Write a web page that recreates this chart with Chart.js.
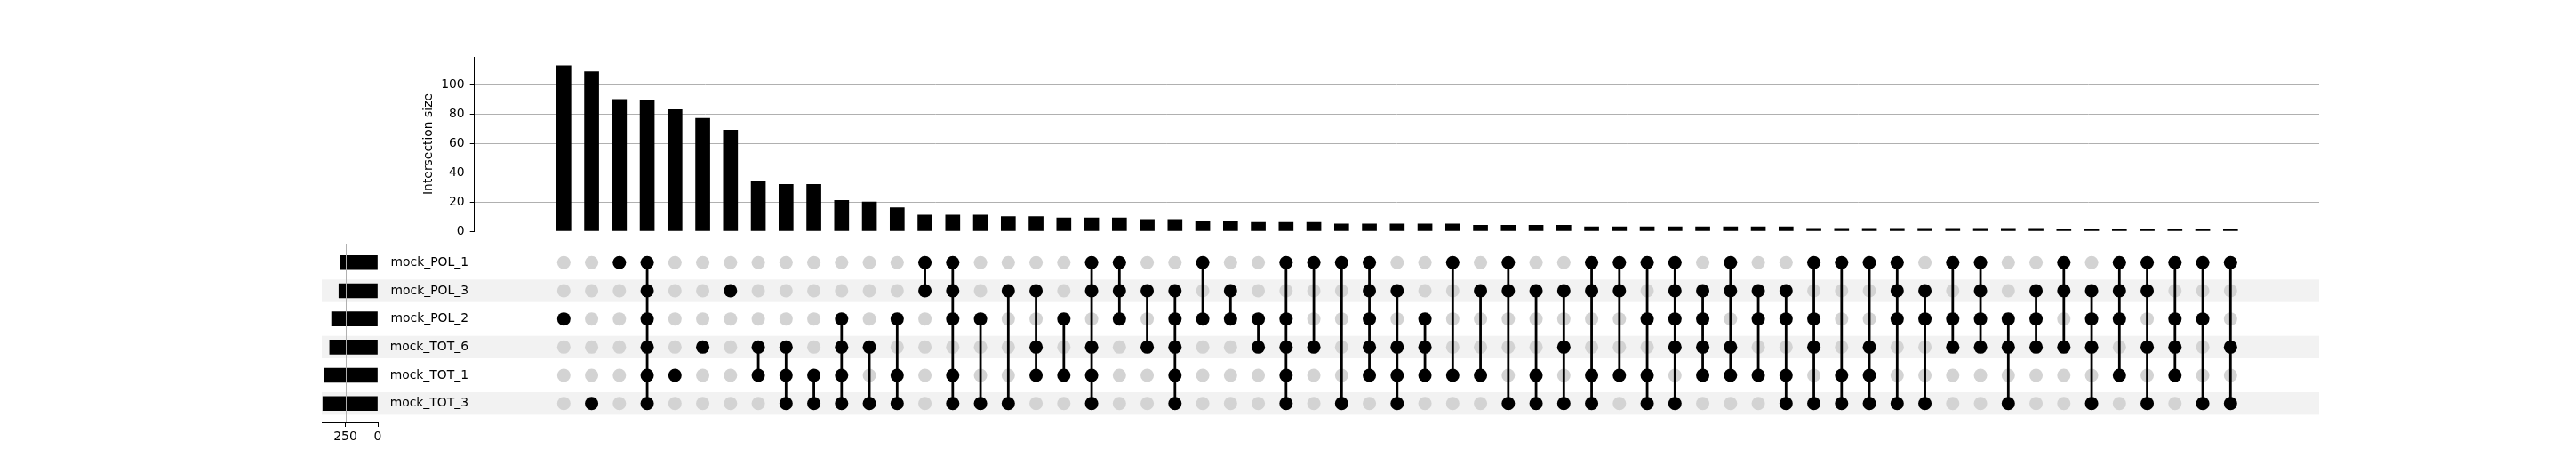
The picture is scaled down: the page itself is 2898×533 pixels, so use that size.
<!DOCTYPE html>
<html>
<head>
<meta charset="utf-8">
<script src="https://cdn.jsdelivr.net/npm/chart.js@4.4.1/dist/chart.umd.min.js"></script>
<style>
  html, body { margin: 0; padding: 0; background: #fff; }
  #wrap { position: relative; width: 2898px; height: 533px; }
  #wrap canvas { position: absolute; left: 0; top: 0; }
</style>
</head>
<body>
<div id="wrap">
  <canvas id="matrix" width="2898" height="533"></canvas>
  <canvas id="totals" width="2898" height="533"></canvas>
  <canvas id="bars" width="2898" height="533"></canvas>
</div>
<script>
// sets, top to bottom in the matrix
const setNames = ['mock_POL_1', 'mock_POL_3', 'mock_POL_2', 'mock_TOT_6', 'mock_TOT_1', 'mock_TOT_3'];
const setSizes = [290, 300, 356, 371, 415, 424];

// intersection sizes, sorted as in the plot
const intersectionSizes = [
    113, 109, 90, 89, 83, 77, 69, 34, 32, 32, 21, 20, 16, 11, 11, 11, 10, 10, 9, 9, 9,
    8, 8, 7, 7, 6, 6, 6, 5, 5, 5, 5, 5, 4, 4, 4, 4, 3, 3, 3, 3, 3, 3, 3, 3,
    2, 2, 2, 2, 2, 2, 2, 2, 2, 1, 1, 1, 1, 1, 1, 1
];

// which sets (row index into setNames) each intersection contains
const memberships = [
    [2], [5], [0], [0, 1, 2, 3, 4, 5], [4], [3], [1], [3, 4], [3, 4, 5], [4, 5],
    [2, 3, 4, 5], [3, 5], [2, 4, 5], [0, 1], [0, 1, 2, 4, 5], [2, 5], [1, 5], [1, 3, 4], [2, 4], [0, 1, 3, 4, 5],
    [0, 1, 2], [1, 3], [1, 2, 3, 4, 5], [0, 2], [1, 2], [2, 3], [0, 2, 3, 4, 5], [0, 3], [0, 5], [0, 1, 2, 3, 4],
    [1, 3, 4, 5], [2, 3, 4], [0, 4], [1, 4], [0, 1, 5], [1, 4, 5], [1, 3, 5], [0, 1, 4, 5], [0, 1, 4], [0, 2, 4, 5],
    [0, 1, 2, 3, 5], [1, 2, 3, 4], [0, 1, 3, 4], [1, 2, 4], [1, 2, 4, 5], [0, 2, 3, 5], [0, 4, 5], [0, 3, 4, 5], [0, 1, 2, 5], [1, 2, 5],
    [0, 2, 3], [0, 1, 2, 3], [2, 3, 5], [1, 2, 3], [0, 1, 3], [1, 2, 3, 5], [0, 1, 2, 4], [0, 1, 3, 5], [0, 2, 3, 4], [0, 2, 5],
    [0, 3, 5]
];

const yTicks = [0, 20, 40, 60, 80, 100];
const sizeTicks = [0, 250];
const sizeGrid = [250];
const shadedRows = [1, 3, 5];

// layout (pixels)
const W = 2898, H = 533;
const plotLeft = 533.7, plotRight = 2609;
const barTop = 64, barBottom = 260;
const matTop = 274, matBottom = 475;
const sizeLeft = 362, sizeRight = 425;
const yTitleLeft = 470.4;
const xMin = -3.22, xMax = 63.19;
const rowMin = -0.672, rowMax = 5.672;

Chart.defaults.font.family = '"DejaVu Sans", sans-serif';
Chart.defaults.font.size = 13.9;
Chart.defaults.color = '#000';

const noPlugins = { legend: { display: false }, tooltip: { enabled: false } };

// intersection size bars
new Chart(document.getElementById('bars'), {
    type: 'bar',
    data: {
        datasets: [{
            data: intersectionSizes.map((v, i) => ({ x: i, y: v })),
            backgroundColor: '#000',
            borderWidth: 0,
            barThickness: 16
        }]
    },
    options: {
        responsive: false,
        animation: false,
        events: [],
        layout: { padding: { left: yTitleLeft, right: W - plotRight, top: barTop, bottom: H - barBottom } },
        plugins: noPlugins,
        scales: {
            x: { type: 'linear', min: xMin, max: xMax, offset: false, display: false },
            y: {
                min: 0,
                max: 119,
                afterBuildTicks: s => { s.ticks = yTicks.map(v => ({ value: v })); },
                afterFit: s => { s.width = plotLeft - yTitleLeft; },
                grid: {
                    color: c => (c.tick && c.tick.value === 0) ? 'rgba(0,0,0,0)' : '#b0b0b0',
                    lineWidth: 1,
                    tickLength: 5,
                    tickColor: '#000'
                },
                border: { display: true, color: '#000', width: 1 },
                ticks: { padding: 6, color: '#000' },
                title: { display: true, text: 'Intersection size', color: '#000', padding: { top: 4, bottom: 4 } }
            }
        }
    }
});

// matrix of dots
const grayPts = [];
const blackPts = [];
const lineSets = [];
memberships.forEach((rows, i) => {
    setNames.forEach((name, r) => {
        (rows.includes(r) ? blackPts : grayPts).push({ x: i, y: r });
    });
    if (rows.length > 1) {
        lineSets.push({
            data: [{ x: i, y: Math.min(...rows) }, { x: i, y: Math.max(...rows) }],
            showLine: true,
            borderColor: '#000',
            borderWidth: 2.8,
            pointRadius: 0,
            order: 1
        });
    }
});

const shading = {
    id: 'shading',
    beforeDraw(chart) {
        const { ctx, chartArea, scales: { y } } = chart;
        ctx.save();
        ctx.fillStyle = '#f2f2f2';
        shadedRows.forEach(r => {
            const y0 = y.getPixelForValue(r - 0.4);
            const y1 = y.getPixelForValue(r + 0.4);
            ctx.fillRect(sizeLeft, Math.min(y0, y1), chartArea.right - sizeLeft, Math.abs(y1 - y0));
        });
        ctx.restore();
    }
};

new Chart(document.getElementById('matrix'), {
    type: 'scatter',
    data: {
        datasets: [
            { data: blackPts, backgroundColor: '#000', pointRadius: 7.5, pointBorderWidth: 0, order: 0 },
            ...lineSets,
            { data: grayPts, backgroundColor: '#d3d3d3', pointRadius: 7.5, pointBorderWidth: 0, order: 2 }
        ]
    },
    options: {
        responsive: false,
        animation: false,
        events: [],
        layout: { padding: { left: 0, right: W - plotRight, top: matTop, bottom: H - matBottom } },
        plugins: noPlugins,
        scales: {
            x: { type: 'linear', min: xMin, max: xMax, display: false },
            y: {
                type: 'linear',
                reverse: true,
                min: rowMin,
                max: rowMax,
                afterBuildTicks: s => { s.ticks = setNames.map((n, i) => ({ value: i })); },
                afterFit: s => { s.width = plotLeft; },
                grid: { display: false, drawTicks: false },
                border: { display: false },
                ticks: { padding: 6.7, color: '#000', callback: v => setNames[v] }
            }
        }
    },
    plugins: [shading]
});

// grid line drawn over the set size bars
const gridOnTop = {
    id: 'gridOnTop',
    afterDatasetsDraw(chart) {
        const { ctx, chartArea, scales: { x } } = chart;
        ctx.save();
        ctx.strokeStyle = '#b0b0b0';
        ctx.lineWidth = 1;
        sizeGrid.forEach(v => {
            const px = Math.round(x.getPixelForValue(v)) + 0.5;
            ctx.beginPath();
            ctx.moveTo(px, chartArea.top);
            ctx.lineTo(px, chartArea.bottom);
            ctx.stroke();
        });
        ctx.restore();
    }
};

// set size bars
new Chart(document.getElementById('totals'), {
    type: 'bar',
    data: {
        datasets: [{
            data: setSizes.map((v, i) => ({ x: v, y: i })),
            backgroundColor: '#000',
            borderWidth: 0,
            barThickness: 16
        }]
    },
    options: {
        indexAxis: 'y',
        responsive: false,
        animation: false,
        events: [],
        layout: { padding: { left: sizeLeft, right: W - sizeRight, top: matTop, bottom: H - matBottom - 30 } },
        plugins: noPlugins,
        scales: {
            y: { type: 'linear', reverse: true, min: rowMin, max: rowMax, offset: false, display: false },
            x: {
                type: 'linear',
                reverse: true,
                min: 0,
                max: 432,
                afterBuildTicks: s => { s.ticks = sizeTicks.map(v => ({ value: v })); },
                afterFit: s => { s.height = 30; },
                grid: {
                    color: 'rgba(0,0,0,0)',
                    lineWidth: 1,
                    tickLength: 5,
                    tickColor: '#000'
                },
                border: { display: true, color: '#000', width: 1 },
                ticks: { padding: 3, color: '#000', maxRotation: 0, autoSkip: false }
            }
        }
    },
    plugins: [gridOnTop]
});
</script>
</body>
</html>
